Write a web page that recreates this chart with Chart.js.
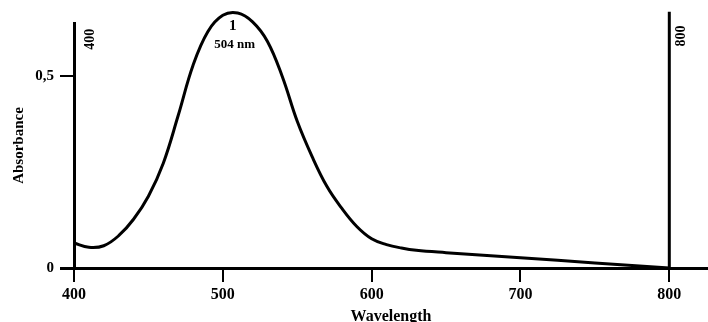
<!DOCTYPE html>
<html>
<head>
<meta charset="utf-8">
<script src="https://cdn.jsdelivr.net/npm/chart.js@4"></script>
<style>
  html, body { margin: 0; padding: 0; background: #fff; overflow: hidden; }
  #wrap { width: 708px; height: 322px; }
</style>
</head>
<body>
<div id="wrap"><canvas id="myChart"></canvas></div>
<script>
const ctx = document.getElementById('myChart');

// absorption spectrum
const wavelengths = [400, 410, 420, 430, 440, 450, 460, 470, 480, 490, 500, 510, 520, 530, 540, 550, 560, 570, 580, 590, 600, 610, 620, 630, 650, 700, 750, 800];
const absorbance = [0.065, 0.054, 0.058, 0.084, 0.127, 0.187, 0.273, 0.397, 0.528, 0.616, 0.658, 0.664, 0.641, 0.590, 0.498, 0.382, 0.290, 0.212, 0.155, 0.108, 0.076, 0.061, 0.052, 0.046, 0.040, 0.027, 0.013, 0];

const xTicks = [400, 500, 600, 700, 800];
const yTicks = [0, 0.5];
const peakLabel = '1';
const peakText = '504 nm';
const bounds = [400, 800];

const serif = "'Liberation Serif', 'Times New Roman', serif";

const points = wavelengths.map((w, i) => ({ x: w, y: absorbance[i] }));

// vertical marker line at 800, the rotated 400/800 marks and the peak label
const extras = {
    id: 'extras',
    afterDatasetsDraw(chart) {
        const { ctx, scales: { x, y } } = chart;
        ctx.save();
        ctx.strokeStyle = '#000';
        ctx.fillStyle = '#000';
        ctx.lineWidth = 3;
        const x800 = x.getPixelForValue(bounds[1]);
        ctx.beginPath();
        ctx.moveTo(x800, y.getPixelForValue(0.667));
        ctx.lineTo(x800, y.getPixelForValue(0));
        ctx.stroke();

        ctx.font = 'bold 14px ' + serif;
        ctx.textAlign = 'center';
        ctx.textBaseline = 'middle';
        bounds.forEach((b, i) => {
            const px = x.getPixelForValue(b) + (i === 0 ? 16 : 12);
            const py = y.getPixelForValue(i === 0 ? 0.596 : 0.604);
            ctx.save();
            ctx.translate(px, py);
            ctx.rotate(-Math.PI / 2);
            ctx.fillText(String(b), 0, 0);
            ctx.restore();
        });

        const px = x.getPixelForValue(506);
        ctx.font = 'bold 15px ' + serif;
        ctx.fillText(peakLabel, px + 1, y.getPixelForValue(0.630));
        ctx.font = 'bold 13px ' + serif;
        ctx.fillText(peakText, px + 3, y.getPixelForValue(0.581));
        ctx.restore();
    }
};

const config = {
    type: 'line',
    data: {
        datasets: [{
            data: points,
            borderColor: '#000',
            borderWidth: 3,
            pointRadius: 0,
            fill: false,
            tension: 0.4,
            clip: false
        }]
    },
    options: {
        responsive: true,
        maintainAspectRatio: false,
        animation: false,
        layout: { padding: { top: 23, left: 0, right: 0, bottom: 0 } },
        plugins: { legend: { display: false }, tooltip: { enabled: false } },
        scales: {
            x: {
                type: 'linear',
                min: 400,
                max: 826,
                afterBuildTicks: (s) => { s.ticks = xTicks.map(v => ({ value: v })); },
                afterFit: (s) => { s.height = 54; },
                ticks: {
                    color: '#000',
                    font: { family: serif, size: 16, weight: 'bold' },
                    padding: 3,
                    maxRotation: 0,
                    autoSkip: false
                },
                grid: {
                    drawOnChartArea: false,
                    drawTicks: true,
                    tickLength: 14,
                    color: '#000',
                    lineWidth: 2
                },
                border: { display: true, color: '#000', width: 3 },
                title: {
                    display: true,
                    text: 'Wavelength',
                    color: '#000',
                    font: { family: serif, size: 16, weight: 'bold' },
                    padding: { top: 0, bottom: -4 }
                }
            },
            y: {
                min: 0,
                max: 0.638,
                afterBuildTicks: (s) => { s.ticks = yTicks.map(v => ({ value: v })); },
                afterFit: (s) => { s.width = 74; },
                ticks: {
                    color: '#000',
                    font: { family: serif, size: 15, weight: 'bold' },
                    padding: 6,
                    callback: (v) => String(v).replace('.', ',')
                },
                grid: {
                    drawOnChartArea: false,
                    drawTicks: true,
                    tickLength: 14,
                    color: '#000',
                    lineWidth: (c) => (c.tick && c.tick.value === 0 ? 3 : 2)
                },
                border: { display: true, color: '#000', width: 3 },
                title: {
                    display: true,
                    text: 'Absorbance',
                    color: '#000',
                    font: { family: serif, size: 15, weight: 'bold' },
                    padding: { top: 10, bottom: 0 }
                }
            }
        }
    },
    plugins: [extras]
};

const myChart = new Chart(ctx, config);
</script>
</body>
</html>
